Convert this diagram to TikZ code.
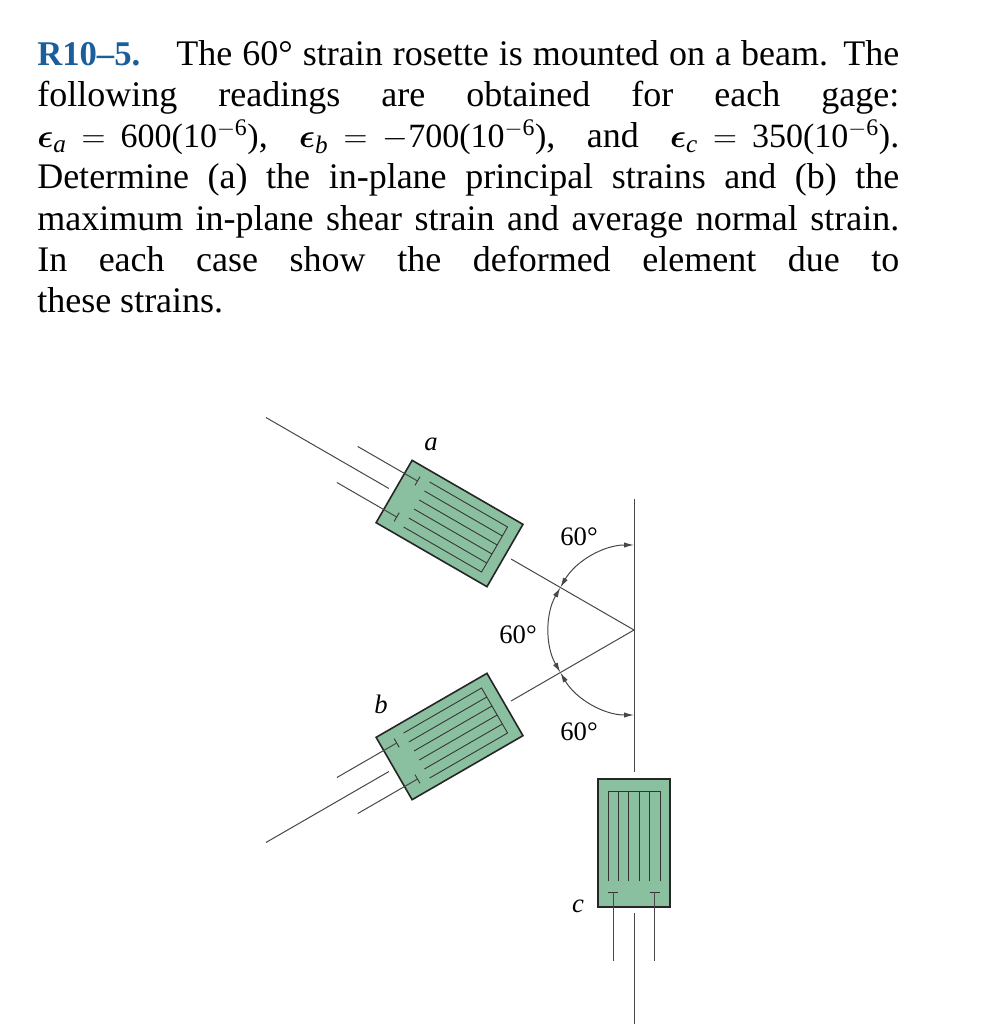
\documentclass[tikz,border=0pt]{standalone}
\usepackage{amsmath}
\usepackage{amssymb}
\usepackage{fontspec}
\setmainfont{Liberation Serif}
\usetikzlibrary{arrows.meta}
\usetikzlibrary{positioning}
\definecolor{gaugegreen}{RGB}{138,191,160}
\definecolor{titleblue}{RGB}{26,95,155}
\definecolor{wiregray}{gray}{0.28}
\newcommand{\strain}[1]{$\boldsymbol{\epsilon}_{\textit{#1}}$}
\newcommand{\eqsign}{\hspace{0.42em}$=$\hspace{0.42em}}
\newcommand{\reading}[1]{{\fontsize{25.5}{30.9}\selectfont #1(10$^{-\text{6}}$)}}
\tikzset{
    wire/.style={wiregray,line width=0.75pt},
    grid line/.style={black!80,line width=0.65pt},
    angle arc/.style={wiregray,line width=0.75pt,{Latex[length=7.5pt,width=4pt]}-{Latex[length=7.5pt,width=4pt]}},
    fig label/.style={inner sep=0pt,font=\fontsize{20}{24}\selectfont}
}

\begin{document}
\begin{tikzpicture}[x=0.75pt,y=-0.75pt]
    \useasboundingbox (0,0) rectangle (1001,1024);

    \node (problem) [anchor=north west,inner sep=0pt,text width=646.5pt,align=justify,font=\fontsize{27}{30.9}\selectfont] at (37,40) {%
        {\color{titleblue}\fontsize{26}{30.9}\selectfont\bfseries R10--5.}\quad The 60° strain rosette is mounted on a beam. The\linebreak
        following readings are obtained for each gage:\linebreak
        \strain{a}\eqsign\reading{600},\hfill\strain{b}\eqsign$-$\reading{700},\hfill and\hfill\strain{c}\eqsign\reading{350}.\linebreak
        Determine (a) the in-plane principal strains and (b) the\linebreak
        maximum in-plane shear strain and average normal strain.\linebreak
        In each case show the deformed element due to\linebreak
        these strains.\par};

    \coordinate (O) at (634,630);
    \coordinate (top) at (634,499);
    \draw [wire] (top) -- (O);

    % gauges are drawn for c and turned about O
    \foreach \ang/\nm/\far in {-120/a/425,-60/b/425,0/c/394} {
        \begin{scope}[shift={(O)},rotate=\ang]
            \coordinate (near\nm) at (0,142);
            \coordinate (out\nm) at (0,283);
            \coordinate (end\nm) at (0,\far);
            \draw [wire] (O) -- (near\nm);
            \draw [wire] (out\nm) -- (end\nm);

            \filldraw [fill=gaugegreen,draw=black!85,line width=1.2pt] (-36,149) rectangle (36,277);

            \draw [grid line] (-26,251) -- (-26,161) -- (26,161) -- (26,251);
            \foreach \v in {-15.6,-5.2,5.2,15.6}
                \draw [grid line] (\v,161) -- (\v,251);

            \foreach \v in {-20.8,20.8} {
                \draw [grid line] (\v-5,262) -- (\v+5,262);
                \draw [wire] (\v,262) -- (\v,331);
            }
        \end{scope}
    }

    \draw [angle arc] (O) ++(210:85) arc (210:270:85);
    \draw [angle arc] (O) ++(150:85) arc (150:210:85);
    \draw [angle arc] (O) ++(90:85) arc (90:150:85);

    \node (anglea) [fig label] at (579,537) {60°};
    \node (angleb) [fig label] at (518,635) {60°};
    \node (anglec) [fig label] at (579,732) {60°};
    \node (labela) [fig label] at (431,444) {\textit{a}};
    \node (labelb) [fig label] at (381,704) {\textit{b}};
    \node (labelc) [fig label] at (578,906) {\textit{c}};
\end{tikzpicture}
\end{document}
